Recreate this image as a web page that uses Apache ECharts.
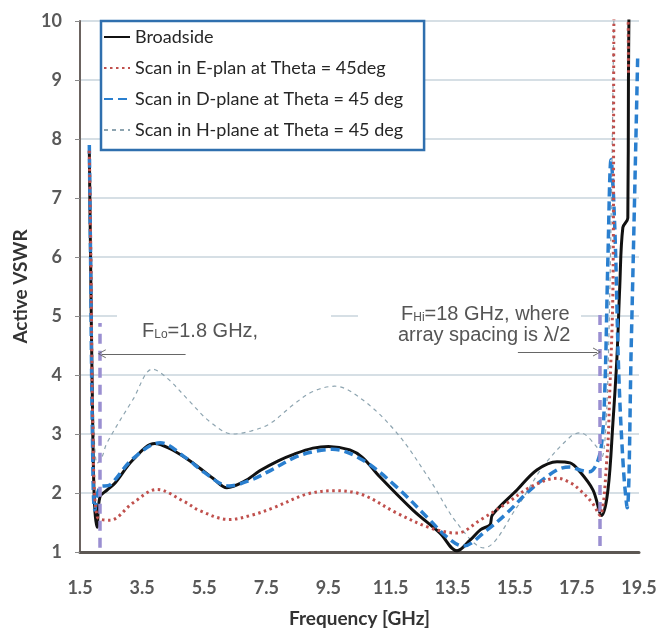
<!DOCTYPE html>
<html><head><meta charset="utf-8">
<script src="https://cdn.jsdelivr.net/npm/echarts@6/dist/echarts.min.js"></script>
<style>html,body{margin:0;padding:0;background:#fff}#c{width:664px;height:628px}</style>
</head><body><div id="c"></div><script>
// ---- data ----
var seriesNames = ['Broadside', 'Scan in E-plan at Theta = 45deg', 'Scan in D-plane at Theta = 45 deg', 'Scan in H-plane at Theta = 45 deg'];
var xTicks = [1.5, 3.5, 5.5, 7.5, 9.5, 11.5, 13.5, 15.5, 17.5, 19.5];

var broadsideF = [1.80, 1.84, 1.90, 1.96, 2.05, 2.14, 2.37, 2.63, 3.2, 3.91, 4.4, 4.94, 5.36, 5.8, 6.23, 6.8, 7.3, 7.9, 8.4, 9.0, 9.5, 10.19, 10.6, 11.16, 12.22, 13.09, 13.64, 14.06, 14.4, 14.7, 14.78, 15.57, 16.21, 16.86, 17.28, 17.6, 18.02, 18.3, 18.5, 18.66, 18.79, 18.88, 18.98, 19.14, 19.16, 19.18];
var broadsideV = [7.8, 6.0, 3.5, 1.9, 1.42, 1.93, 2.05, 2.17, 2.56, 2.84, 2.75, 2.58, 2.42, 2.24, 2.09, 2.2, 2.38, 2.55, 2.66, 2.76, 2.79, 2.73, 2.6, 2.27, 1.71, 1.32, 1.02, 1.2, 1.38, 1.46, 1.63, 2.05, 2.39, 2.53, 2.51, 2.36, 2.05, 1.62, 2.05, 3.19, 4.3, 5.49, 6.5, 6.66, 9.0, 10.3];

var ePlaneF = [1.80, 1.85, 1.92, 2.05, 2.47, 3.2, 3.98, 4.87, 5.36, 6.3, 7.0, 7.73, 8.8, 9.7, 10.6, 11.7, 12.77, 13.64, 14.38, 15.25, 16.0, 16.86, 17.3, 17.6, 18.0, 18.24, 18.47, 18.56, 18.66, 18.72, 19.12, 19.16];
var ePlaneV = [7.8, 6.0, 3.0, 1.6, 1.54, 1.83, 2.06, 1.85, 1.7, 1.55, 1.62, 1.75, 1.98, 2.04, 1.97, 1.66, 1.41, 1.32, 1.54, 1.83, 2.1, 2.25, 2.17, 2.05, 1.83, 1.62, 2.61, 3.74, 5.44, 10.5, 10.5, 9.1];

var dPlaneF = [1.80, 1.84, 1.90, 1.98, 2.14, 2.47, 3.2, 4.08, 4.9, 5.5, 6.3, 7.0, 7.7, 8.4, 9.0, 9.63, 10.6, 11.7, 12.77, 13.3, 13.83, 14.6, 15.25, 15.99, 16.86, 17.28, 17.6, 17.9, 18.14, 18.3, 18.4, 18.5, 18.6, 18.72, 18.85, 19.0, 19.12, 19.25, 19.4, 19.46];
var dPlaneV = [7.9, 6.0, 3.0, 1.71, 2.1, 2.14, 2.58, 2.85, 2.6, 2.35, 2.12, 2.22, 2.4, 2.6, 2.7, 2.74, 2.56, 2.1, 1.54, 1.26, 1.1, 1.37, 1.66, 2.05, 2.39, 2.44, 2.39, 2.36, 2.5, 2.85, 3.75, 6.0, 7.65, 6.5, 4.0, 2.4, 1.75, 4.5, 8.0, 9.45];

var hPlaneF = [1.80, 1.90, 2.05, 2.2, 2.37, 3.2, 3.84, 4.3, 5.0, 5.7, 6.43, 7.0, 7.6, 8.4, 9.0, 9.7, 10.6, 11.7, 12.77, 13.64, 14.5, 15.57, 16.4, 17.28, 17.6, 18.14, 18.3, 18.5, 18.7];
var hPlaneV = [7.5, 4.0, 2.5, 2.6, 2.85, 3.58, 4.1, 3.95, 3.57, 3.2, 3.0, 3.05, 3.17, 3.51, 3.72, 3.81, 3.58, 3.02, 2.22, 1.49, 1.07, 1.76, 2.44, 2.95, 3.02, 2.78, 2.6, 4.0, 10.5];

// annotation markers (data coords)
var fLoLineX = 2.14, fLoLineY = [1.07, 4.88];
var fHiLineX = 18.24, fHiLineY = [1.1, 5.13];
var arrowLoX = [4.9, 2.2], arrowLoY = 4.36;
var arrowHiX = [15.6, 18.15], arrowHiY = 4.39;

function pairs(f, v) { return f.map(function (x, i) { return [x, v[i]]; }); }

var chart = echarts.init(document.getElementById('c'), null, { renderer: 'canvas' });
var FONT = 'Lato';
var AFONT = 'Liberation Sans';
var chevron = 'path://M0,10 L5,0 L10,10 L9,10 L5,2 L1,10 Z';

chart.setOption({
  animation: false,
  backgroundColor: '#fff',
  grid: { left: 80, right: 25, top: 21, bottom: 76, containLabel: false, outerBoundsMode: 'none' },
  legend: {
    data: seriesNames,
    orient: 'vertical',
    left: 101, top: 21,
    padding: [7, 21, 11, 2],
    itemGap: 13, itemWidth: 26, itemHeight: 14,
    backgroundColor: '#fff',
    borderColor: '#2f6fae', borderWidth: 2.5,
    itemStyle: { opacity: 0 },
    textStyle: { fontFamily: FONT, fontSize: 18, color: '#262626' }
  },
  xAxis: {
    type: 'value', min: 1.5, max: 19.5, interval: 2,
    name: 'Frequency [GHz]', nameLocation: 'middle', nameGap: 57,
    nameTextStyle: { fontFamily: FONT, fontSize: 19, fontWeight: 'bold', color: '#333' },
    axisLine: { show: true, onZero: false, lineStyle: { color: '#5c5753', width: 3 } },
    axisTick: { show: false },
    splitLine: { show: false },
    axisLabel: { margin: 27, fontFamily: FONT, fontSize: 18, fontWeight: 'bold', color: '#595959',
      formatter: function (v) { return v.toFixed(1); } }
  },
  yAxis: {
    type: 'value', min: 1, max: 10, interval: 1,
    name: 'Active VSWR', nameLocation: 'middle', nameGap: 48, nameRotate: 90,
    nameTextStyle: { fontFamily: FONT, fontSize: 19, fontWeight: 'bold', color: '#333' },
    axisLine: { show: true, lineStyle: { color: '#6b6360', width: 2 } },
    axisTick: { show: true, length: 5, lineStyle: { color: '#8a8a8a' } },
    splitLine: { show: true, lineStyle: { color: '#c9d4dc', width: 1.5 } },
    axisLabel: { margin: 18, fontFamily: FONT, fontSize: 18, fontWeight: 'bold', color: '#595959' }
  },
  series: [
    { name: seriesNames[0], type: 'line', data: pairs(broadsideF, broadsideV), z: 3,
      showSymbol: false, symbol: 'none', smooth: 0.35,
      lineStyle: { color: '#111', width: 3 }, itemStyle: { color: '#111' } },
    { name: seriesNames[1], type: 'line', data: pairs(ePlaneF, ePlaneV), z: 5,
      showSymbol: false, symbol: 'none', smooth: 0.35,
      lineStyle: { color: '#c0504d', width: 3, type: [2.5, 3.5] }, itemStyle: { color: '#c0504d' } },
    { name: seriesNames[2], type: 'line', data: pairs(dPlaneF, dPlaneV), z: 4,
      showSymbol: false, symbol: 'none', smooth: 0.35,
      lineStyle: { color: '#2a7fcf', width: 3.5, type: [9, 5] }, itemStyle: { color: '#2a7fcf' } },
    { name: seriesNames[3], type: 'line', data: pairs(hPlaneF, hPlaneV), z: 2,
      showSymbol: false, symbol: 'none', smooth: 0.35,
      lineStyle: { color: '#8da4b0', width: 1.2, type: [4, 4] }, itemStyle: { color: '#8da4b0' } },
    { name: 'markers', type: 'line', data: [], z: 6, silent: true,
      markLine: {
        silent: true, animation: false, label: { show: false },
        data: [
          [{ coord: [fLoLineX, fLoLineY[0]], symbol: 'none', lineStyle: { color: '#9a8fd1', width: 3.5, type: [10, 7] } },
           { coord: [fLoLineX, fLoLineY[1]], symbol: 'none' }],
          [{ coord: [fHiLineX, fHiLineY[0]], symbol: 'none', lineStyle: { color: '#9a8fd1', width: 3.5, type: [10, 7] } },
           { coord: [fHiLineX, fHiLineY[1]], symbol: 'none' }],
          [{ coord: [arrowLoX[0], arrowLoY], symbol: 'none', lineStyle: { color: '#666', width: 1.2, type: 'solid' } },
           { coord: [arrowLoX[1], arrowLoY], symbol: chevron, symbolSize: [9, 8] }],
          [{ coord: [arrowHiX[0], arrowHiY], symbol: 'none', lineStyle: { color: '#666', width: 1.2, type: 'solid' } },
           { coord: [arrowHiX[1], arrowHiY], symbol: chevron, symbolSize: [9, 8] }]
        ]
      }
    }
  ],
  graphic: [
    { type: 'rect', z: 10, shape: { x: 117, y: 305, width: 214, height: 38 }, style: { fill: '#fff' } },
    { type: 'rect', z: 10, shape: { x: 358, y: 302, width: 223, height: 44 }, style: { fill: '#fff' } },
    { type: 'text', z: 11, left: 142, top: 321,
      style: { text: '{n|F}{s|Lo}{n|=1.8 GHz,}',
        rich: { n: { fontFamily: AFONT, fontSize: 20, fill: '#555', lineHeight: 22, verticalAlign: 'bottom' },
                s: { fontFamily: AFONT, fontSize: 12, fill: '#555', lineHeight: 12, verticalAlign: 'bottom' } } } },
    { type: 'text', z: 11, left: 401, top: 304,
      style: { text: '{n|F}{s|Hi}{n|=18 GHz, where}',
        rich: { n: { fontFamily: AFONT, fontSize: 20, fill: '#555', lineHeight: 22, verticalAlign: 'bottom' },
                s: { fontFamily: AFONT, fontSize: 12, fill: '#555', lineHeight: 12, verticalAlign: 'bottom' } } } },
    { type: 'text', z: 11, left: 398, top: 325,
      style: { text: 'array spacing is \u03BB/2', font: '20px ' + AFONT, fill: '#555' } }
  ]
});
</script></body></html>
